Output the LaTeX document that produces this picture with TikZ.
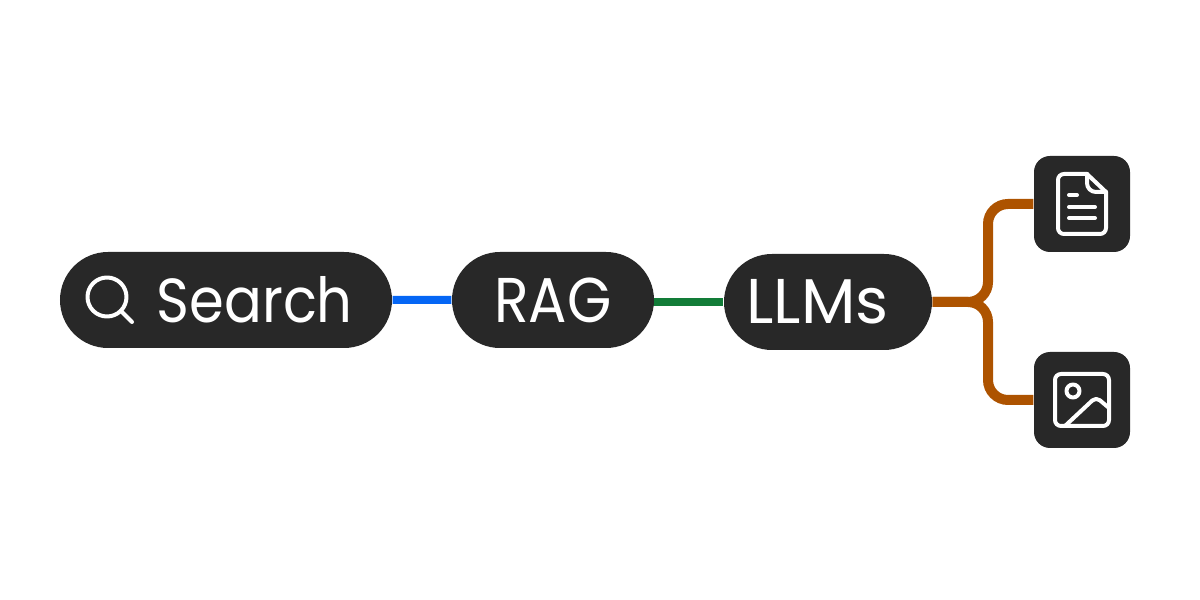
\documentclass[tikz,border=0pt]{standalone}
\usepackage{fontspec}
\setmainfont{Poppins}[FakeStretch=0.9]
\newfontfamily\llmsfont{Poppins}
\usepackage{xcolor}
\usetikzlibrary{backgrounds,positioning,shapes.misc}
\definecolor{pillgrey}{HTML}{282828}
\definecolor{linkblue}{HTML}{0566F5}
\definecolor{linkgreen}{HTML}{127C38}
\definecolor{linkorange}{HTML}{AD5300}
\tikzset{
  pill/.style={fill=pillgrey,text=white,rounded rectangle,minimum height=0.96cm,inner sep=0pt,font=\fontsize{18}{18}\selectfont},
  iconbox/.style={fill=pillgrey,rounded corners=0.16cm,minimum size=0.96cm,inner sep=0pt},
  link/.style={line width=0.08cm},
  forklink/.style={line width=0.1cm,linkorange,rounded corners=0.2cm},
  icon/.style={draw=white,line width=0.04cm,line cap=round,line join=round},
}
\begin{document}
\begin{tikzpicture}
  \useasboundingbox (0,0) rectangle (12,6);
  \node[pill,minimum width=3.32cm] (search) at (2.26,3) {};
  \node[pill,minimum width=2.02cm] (rag) at (5.53,3) {RAG};
  \node[pill,minimum width=2.08cm] (llms) at (8.28,2.98) {\llmsfont LLMs\kern0.21cm};
  \node[iconbox] (doc) at (10.82,3.96) {};
  \node[iconbox] (img) at (10.82,2) {};
  \coordinate (fork) at (9.88,3);
  \node[text=white,inner sep=0pt,font=\fontsize{17.7}{18}\selectfont,anchor=west] (searchtext) at (1.56,3) {Search};
  % links sit under the boxes
  \begin{scope}[on background layer]
    \draw[link,linkblue] (search) -- (rag);
    \draw[link,linkgreen] (rag |- llms) -- (llms);
    \draw[forklink] (llms) -- (llms -| fork) |- (doc);
    \draw[forklink] (llms) -- (llms -| fork) |- (img);
  \end{scope}
  % magnifier
  \draw[icon] (1.07,3.03) circle (0.195);
  \draw[icon] (1.21,2.89) -- (1.32,2.78);
  % page
  \draw[icon,rounded corners=0.06cm] (10.87,4.26) -- (10.58,4.26) -- (10.58,3.66) -- (11.06,3.66) -- (11.06,4.08);
  \draw[icon] (10.87,4.26) -- (11.06,4.08);
  \draw[icon] (10.87,4.26) -- (10.87,4.17) .. controls (10.87,4.12) and (10.91,4.08) .. (10.96,4.08) -- (11.06,4.08);
  \draw[icon] (10.69,4.05) -- (10.77,4.05);
  \draw[icon] (10.69,3.93) -- (10.95,3.93);
  \draw[icon] (10.69,3.82) -- (10.95,3.82);
  % picture
  \draw[icon,rounded corners=0.06cm] (10.55,1.74) rectangle (11.09,2.26);
  \draw[icon] (10.73,2.09) circle (0.065);
  \draw[icon,rounded corners=0.05cm] (10.65,1.74) -- (10.96,2.03) -- (11.09,1.92);
\end{tikzpicture}
\end{document}
